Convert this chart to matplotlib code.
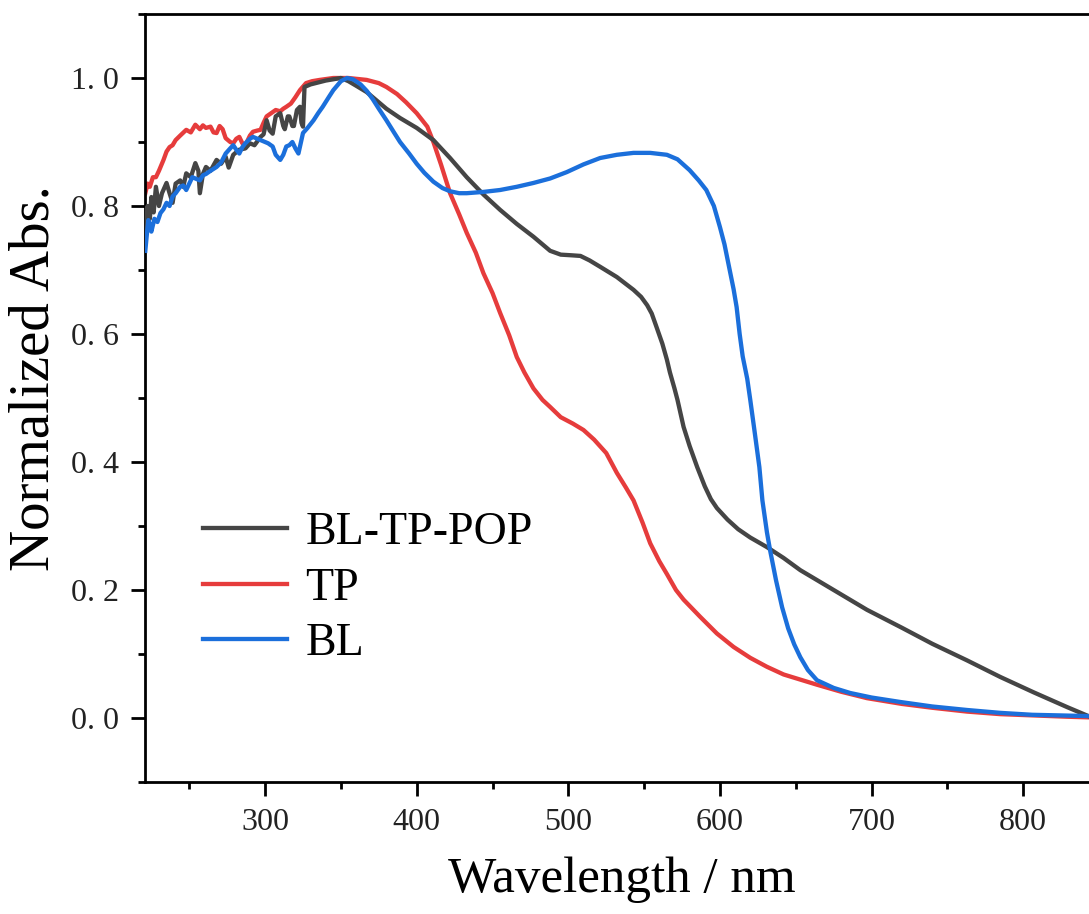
import matplotlib
matplotlib.use("Agg")
import matplotlib.pyplot as plt
from matplotlib.ticker import FixedLocator, FixedFormatter, MultipleLocator

# ---------------- data ----------------
wl_black = [221, 222.5, 224, 225, 226.5, 228, 230, 232, 235, 237, 239, 241, 244, 246, 248, 251,
            254, 256, 257, 259, 261, 264, 268, 271, 274, 276, 279, 283, 287, 290, 293, 297, 299,
            301, 303, 305, 307, 310, 312, 313, 315, 316, 318, 319, 321, 323, 324, 325, 326, 330,
            335, 340, 345, 350, 355, 360, 367, 375, 380, 389, 400, 411, 422, 433, 444, 455, 466,
            477, 488, 495, 502, 508, 514, 521, 532, 543, 548, 552, 555, 558, 562, 565, 567, 570,
            572, 576, 580, 585, 590, 594, 598, 605, 612, 620, 631, 642, 653, 675, 697, 720, 740,
            763, 785, 807, 829, 843]
abs_black = [0.76, 0.80, 0.78, 0.814, 0.79, 0.83, 0.80, 0.82, 0.836, 0.82, 0.805, 0.835, 0.84,
             0.83, 0.851, 0.845, 0.867, 0.855, 0.82, 0.85, 0.861, 0.855, 0.872, 0.866, 0.877,
             0.86, 0.88, 0.888, 0.89, 0.898, 0.895, 0.908, 0.912, 0.934, 0.918, 0.913, 0.94,
             0.945, 0.925, 0.92, 0.94, 0.94, 0.925, 0.925, 0.95, 0.955, 0.93, 0.924, 0.986,
             0.99, 0.993, 0.996, 0.998, 1.0, 0.995, 0.988, 0.978, 0.962, 0.952, 0.9375, 0.922,
             0.903, 0.875, 0.845, 0.818, 0.794, 0.772, 0.752, 0.73, 0.724, 0.723, 0.722, 0.715,
             0.705, 0.689, 0.669, 0.658, 0.645, 0.632, 0.612, 0.585, 0.56, 0.54, 0.515, 0.497,
             0.455, 0.425, 0.392, 0.362, 0.342, 0.328, 0.31, 0.295, 0.282, 0.267, 0.25, 0.231,
             0.2, 0.169, 0.141, 0.116, 0.09, 0.064, 0.04, 0.017, 0.003]

wl_red = [221, 222.5, 224, 226, 228, 230, 233, 235, 237, 239, 241, 244, 248, 251, 254, 257, 259,
          261, 264, 266, 268, 270, 272, 274, 277, 279, 281, 283, 285, 287, 290, 292, 295, 297,
          299, 301, 304, 307, 310, 312, 314, 317, 320, 323, 327, 331, 336, 345, 355, 367, 375,
          380, 387, 393, 400, 407, 411, 416, 422, 428, 433, 439, 444, 450, 455, 461, 466, 471,
          477, 483, 488, 495, 503, 510, 517, 525, 532, 538, 543, 549, 554, 560, 565, 571, 576,
          587, 598, 609, 620, 631, 642, 653, 664, 680, 697, 720, 740, 763, 785, 807, 829, 843]
abs_red = [0.82, 0.835, 0.83, 0.845, 0.845, 0.855, 0.872, 0.885, 0.892, 0.895, 0.903, 0.91,
           0.919, 0.915, 0.927, 0.92, 0.926, 0.922, 0.924, 0.915, 0.914, 0.925, 0.92, 0.906,
           0.9, 0.898, 0.905, 0.908, 0.898, 0.895, 0.91, 0.916, 0.918, 0.919, 0.93, 0.94,
           0.945, 0.95, 0.948, 0.952, 0.955, 0.96, 0.97, 0.981, 0.992, 0.995, 0.997, 1.0, 1.0,
           0.997, 0.992, 0.986, 0.975, 0.962, 0.945, 0.924, 0.9, 0.865, 0.82, 0.787, 0.758,
           0.727, 0.695, 0.664, 0.633, 0.598, 0.564, 0.54, 0.515, 0.497, 0.486, 0.47, 0.46,
           0.45, 0.435, 0.414, 0.383, 0.36, 0.34, 0.305, 0.273, 0.245, 0.225, 0.2, 0.185,
           0.158, 0.132, 0.111, 0.094, 0.08, 0.068, 0.06, 0.052, 0.041, 0.031, 0.022, 0.016,
           0.01, 0.006, 0.004, 0.002, 0.001]

wl_blue = [221, 222, 223, 224, 225, 227, 229, 231, 233, 235, 237, 239, 241, 244, 246, 248, 250,
           252, 255, 257, 259, 261, 264, 268, 271, 274, 277, 279, 281, 283, 285, 287, 290, 292,
           295, 299, 302, 305, 307, 310, 312, 314, 316, 318, 320, 322, 325, 328, 332, 335, 338,
           342, 345, 350, 354, 358, 363, 367, 371, 375, 380, 385, 389, 395, 400, 405, 411, 417,
           422, 428, 433, 444, 455, 466, 477, 488, 499, 510, 521, 532, 543, 554, 565, 572, 580,
           586, 591, 596, 600, 603, 606, 609, 611, 613, 615, 618, 620, 623, 626, 628, 631, 633,
           637, 641, 645, 649, 653, 658, 664, 675, 686, 700, 719, 740, 763, 785, 806, 825, 843]
abs_blue = [0.73, 0.755, 0.778, 0.77, 0.76, 0.78, 0.775, 0.789, 0.795, 0.805, 0.8, 0.815, 0.82,
            0.83, 0.832, 0.825, 0.835, 0.845, 0.842, 0.84, 0.848, 0.85, 0.855, 0.861, 0.868,
            0.882, 0.89, 0.895, 0.888, 0.882, 0.892, 0.898, 0.905, 0.908, 0.905, 0.901, 0.898,
            0.893, 0.88, 0.872, 0.88, 0.893, 0.895, 0.9, 0.89, 0.882, 0.914, 0.922, 0.934,
            0.945, 0.955, 0.97, 0.981, 0.995, 1.0, 0.998, 0.99, 0.98, 0.967, 0.952, 0.934,
            0.915, 0.9, 0.882, 0.866, 0.852, 0.838, 0.828, 0.823, 0.82, 0.82, 0.822, 0.825,
            0.83, 0.836, 0.843, 0.853, 0.865, 0.875, 0.88, 0.883, 0.883, 0.88, 0.873, 0.856,
            0.84, 0.825, 0.8, 0.767, 0.74, 0.705, 0.67, 0.642, 0.6, 0.565, 0.53, 0.497, 0.445,
            0.392, 0.34, 0.29, 0.263, 0.215, 0.173, 0.14, 0.115, 0.095, 0.075, 0.059, 0.047,
            0.039, 0.032, 0.025, 0.018, 0.0125, 0.008, 0.005, 0.004, 0.003]

series_names = ["BL-TP-POP", "TP", "BL"]

x_ticks = [300, 400, 500, 600, 700, 800]
x_tick_labels = ["300", "400", "500", "600", "700", "800"]
y_ticks = [0.0, 0.2, 0.4, 0.6, 0.8, 1.0]
y_tick_labels = ["0. 0", "0. 2", "0. 4", "0. 6", "0. 8", "1. 0"]

# ---------------- figure ----------------
W, H = 1089, 914
fig = plt.figure(figsize=(W / 100, H / 100), dpi=100)
serif = ["Liberation Serif", "DejaVu Serif"]

left_px, right_px, top_px, bottom_px = 145, 1099, 14, 782
ax = fig.add_axes([left_px / W, 1 - bottom_px / H,
                   (right_px - left_px) / W, (bottom_px - top_px) / H])

colors = ["#454545", "#e63c3c", "#1b6fdb"]
lw = 3.1
ax.plot(wl_black, abs_black, color=colors[0], lw=lw, label=series_names[0], zorder=3,
        solid_joinstyle="round")
ax.plot(wl_red, abs_red, color=colors[1], lw=lw, label=series_names[1], zorder=2,
        solid_joinstyle="round")
ax.plot(wl_blue, abs_blue, color=colors[2], lw=lw, label=series_names[2], zorder=4,
        solid_joinstyle="round")

ax.set_xlim(220.8, 850)
ax.set_ylim(-0.1, 1.1)

ax.xaxis.set_major_locator(FixedLocator(x_ticks))
ax.xaxis.set_major_formatter(FixedFormatter(x_tick_labels))
ax.xaxis.set_minor_locator(MultipleLocator(50))
ax.yaxis.set_major_locator(FixedLocator(y_ticks))
ax.yaxis.set_major_formatter(FixedFormatter(y_tick_labels))
ax.yaxis.set_minor_locator(MultipleLocator(0.1))

ax.tick_params(axis="both", which="major", direction="out", length=10, width=2,
               labelsize=23, pad=9, top=False, right=False)
ax.tick_params(axis="both", which="minor", direction="out", length=5, width=2,
               top=False, right=False)
for lab in ax.get_xticklabels() + ax.get_yticklabels():
    lab.set_family(serif)
    lab.set_color("#222222")

for s in ["left", "bottom", "top"]:
    ax.spines[s].set_linewidth(2)
ax.spines["right"].set_visible(False)

fig.text(622 / W, 1 - 880 / H, "Wavelength / nm", family=serif, fontsize=36.8,
         ha="center", va="center")
fig.text(35 / W, 1 - 378 / H, "Normalized Abs.", family=serif, fontsize=41,
         ha="center", va="center", rotation=90)

leg = ax.legend(loc="upper left", bbox_to_anchor=(203 / W, 1 - 512 / H),
                bbox_transform=fig.transFigure, frameon=False, borderpad=0,
                borderaxespad=0, handlelength=1.83, handletextpad=0.4,
                labelspacing=0.28, prop={"family": serif, "size": 33})

fig.savefig("out.png", dpi=100)
